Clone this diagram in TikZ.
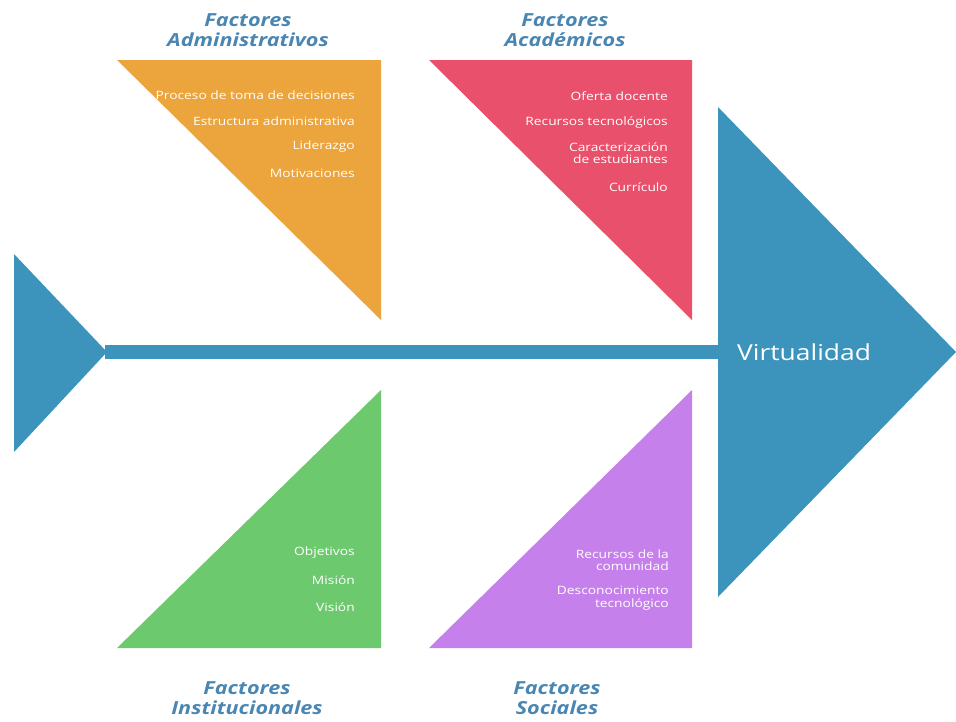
\documentclass[tikz,border=0pt]{standalone}
\usepackage{fontspec}
\setmainfont{Open Sans}[FakeStretch=1.2]
\definecolor{fishblue}{HTML}{3C94BD}
\definecolor{adminorange}{HTML}{ECA43C}
\definecolor{acadred}{HTML}{E9506B}
\definecolor{instgreen}{HTML}{6DC96E}
\definecolor{socpurple}{HTML}{C680EC}
\definecolor{titleblue}{HTML}{4A86B2}
\begin{document}
\begin{tikzpicture}[x=1pt,y=-1pt,
  title/.style={text=titleblue,font=\fontsize{18}{20}\selectfont\bfseries\itshape,align=center,inner sep=0pt},
  item/.style={text=white,font=\fontsize{11.5}{12}\selectfont,align=right,anchor=east,inner sep=0pt},
  itemtwo/.style={item,font=\fontsize{11.5}{12.5}\selectfont}]
\useasboundingbox (0,0) rectangle (956,721);
% spine and head/tail
\fill[fishblue] (14,254) -- (107,352) -- (14,452) -- cycle;
\fill[fishblue] (105,345) rectangle (722,359);
\fill[fishblue] (718,107) -- (956,352) -- (718,597) -- cycle;
\node[text=white,font=\fontsize{22}{24}\selectfont,anchor=west,inner sep=0pt] (eff) at (737,352) {Virtualidad};
% bones
\fill[adminorange] (117,60) -- (381,60) -- (381,320) -- cycle;
\fill[acadred] (429,60) -- (692,60) -- (692,320) -- cycle;
\fill[instgreen] (117,648) -- (381,648) -- (381,390) -- cycle;
\fill[socpurple] (429,648) -- (692,648) -- (692,390) -- cycle;
% titles
\node[title] (tadm) at (248,30) {Factores\\Administrativos};
\node[title] (taca) at (565,30) {Factores\\Académicos};
\node[title] (tins) at (247,698) {Factores\\Institucionales};
\node[title] (tsoc) at (557,698) {Factores\\Sociales};
% items
\node[item] (a1) at (355,95) {Proceso de toma de decisiones};
\node[item] (a2) at (355,121) {Estructura administrativa};
\node[item] (a3) at (355,147) {Liderazgo};
\node[item] (a4) at (355,173) {Motivaciones};
\node[item] (c1) at (668,96) {Oferta docente};
\node[item] (c2) at (668,122) {Recursos tecnológicos};
\node[itemtwo] (c3) at (668,153) {Caracterización\\de estudiantes};
\node[item] (c4) at (668,187) {Currículo};
\node[item] (i1) at (355,553) {Objetivos};
\node[item] (i2) at (355,580) {Misión};
\node[item] (i3) at (355,607) {Visión};
\node[itemtwo] (s1) at (669,560) {Recursos de la\\comunidad};
\node[itemtwo] (s2) at (669,598) {Desconocimiento\\tecnológico};
\end{tikzpicture}
\end{document}
